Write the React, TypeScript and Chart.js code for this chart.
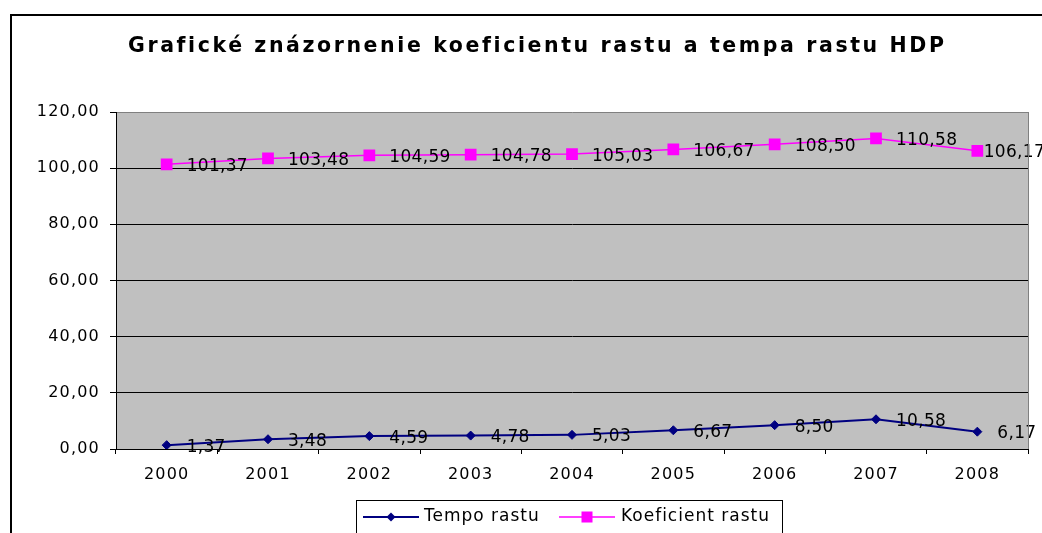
import React, { useEffect, useRef } from "react";
import { Chart, registerables } from "chart.js";

Chart.register(...registerables);

const TITLE = "Grafické znázornenie koeficientu rastu a tempa rastu HDP";
const years = ["2000", "2001", "2002", "2003", "2004", "2005", "2006", "2007", "2008"];
const tempoRastu = [1.37, 3.48, 4.59, 4.78, 5.03, 6.67, 8.5, 10.58, 6.17];
const koeficientRastu = [101.37, 103.48, 104.59, 104.78, 105.03, 106.67, 108.5, 110.58, 106.17];
const seriesNames = ["Tempo rastu", "Koeficient rastu"];
const seriesColors = ["#000080", "#FF00FF"];
const yMin = 0;
const yMax = 120;
const yStep = 20;

const fmt = (v: number) => v.toFixed(2).replace(".", ",");

const FONT = "'DejaVu Sans', sans-serif";

const backgroundPlugin = {
  id: "bgFrame",
  beforeDraw(chart: any) {
    const { ctx, chartArea } = chart;
    ctx.save();
    ctx.fillStyle = "#ffffff";
    ctx.fillRect(0, 0, chart.width, chart.height);
    ctx.strokeStyle = "#000000";
    ctx.lineWidth = 2;
    ctx.strokeRect(11, 15, chart.width + 40, chart.height + 40);
    ctx.fillStyle = "#C0C0C0";
    ctx.fillRect(chartArea.left, chartArea.top, chartArea.right - chartArea.left, chartArea.bottom - chartArea.top);
    ctx.restore();
    (ctx as any).letterSpacing = "1.2px";
  },
  afterDraw(chart: any) {
    const { ctx, chartArea } = chart;
    ctx.save();
    (ctx as any).letterSpacing = "0px";
    // plot area right border
    ctx.strokeStyle = "#808080";
    ctx.lineWidth = 1;
    ctx.beginPath();
    ctx.moveTo(Math.round(chartArea.right) + 0.5, chartArea.top);
    ctx.lineTo(Math.round(chartArea.right) + 0.5, chartArea.bottom);
    ctx.stroke();

    // title
    ctx.fillStyle = "#000";
    ctx.font = "bold 20.5px 'DejaVu Sans', sans-serif";
    ctx.textAlign = "left";
    ctx.textBaseline = "alphabetic";
    const w0 = ctx.measureText(TITLE).width;
    const sp = Math.max(0, (817 - w0) / TITLE.length);
    (ctx as any).letterSpacing = sp + "px";
    ctx.fillText(TITLE, 128, 52);
    (ctx as any).letterSpacing = "0px";

    // legend
    ctx.strokeStyle = "#000";
    ctx.lineWidth = 1;
    ctx.strokeRect(356.5, 500.5, 426, 60);
    const ly = 517;
    const items = [
      { x0: 363, x1: 419, tx: 424 },
      { x0: 559, x1: 615, tx: 621 },
    ];
    items.forEach((it, i) => {
      ctx.strokeStyle = seriesColors[i];
      ctx.lineWidth = i === 0 ? 2 : 1.5;
      ctx.beginPath();
      ctx.moveTo(it.x0, ly);
      ctx.lineTo(it.x1, ly);
      ctx.stroke();
      const cx = (it.x0 + it.x1) / 2;
      ctx.fillStyle = seriesColors[i];
      if (i === 0) {
        ctx.beginPath();
        ctx.moveTo(cx, ly - 4.5);
        ctx.lineTo(cx + 4.5, ly);
        ctx.lineTo(cx, ly + 4.5);
        ctx.lineTo(cx - 4.5, ly);
        ctx.closePath();
        ctx.fill();
      } else {
        ctx.fillRect(cx - 5.5, ly - 5.5, 11, 11);
      }
      ctx.fillStyle = "#000";
      ctx.font = "17px " + FONT;
      (ctx as any).letterSpacing = "1px";
      ctx.fillText(seriesNames[i], it.tx, 521);
      (ctx as any).letterSpacing = "0px";
    });
    ctx.restore();
    (ctx as any).letterSpacing = "0px";
  },
};

const dataLabelPlugin = {
  id: "dataLabels",
  afterDatasetsDraw(chart: any) {
    const { ctx } = chart;
    ctx.save();
    (ctx as any).letterSpacing = "0.3px";
    ctx.font = "17px " + FONT;
    ctx.fillStyle = "#000";
    ctx.textAlign = "left";
    ctx.textBaseline = "alphabetic";
    chart.data.datasets.forEach((ds: any, i: number) => {
      const meta = chart.getDatasetMeta(i);
      meta.data.forEach((pt: any, j: number) => {
        const txt = fmt(ds.data[j]);
        const w = ctx.measureText(txt).width;
        const x = Math.min(pt.x + 20, chart.width - w + 3);
        ctx.fillText(txt, x, pt.y + 6.5);
      });
    });
    ctx.restore();
  },
};

export default function App() {
  const ref = useRef<HTMLCanvasElement | null>(null);
  useEffect(() => {
    if (!ref.current) return;
    const chart = new Chart(ref.current, {
      type: "line",
      data: {
        labels: years,
        datasets: [
          {
            label: seriesNames[0],
            data: tempoRastu,
            borderColor: seriesColors[0],
            backgroundColor: seriesColors[0],
            borderWidth: 2,
            pointStyle: "rectRot",
            pointRadius: 4.5,
            pointBorderWidth: 1,
            tension: 0,
          },
          {
            label: seriesNames[1],
            data: koeficientRastu,
            borderColor: seriesColors[1],
            backgroundColor: seriesColors[1],
            borderWidth: 1.5,
            pointStyle: "rect",
            pointRadius: 8.3,
            pointBorderWidth: 0,
            tension: 0,
          },
        ],
      },
      options: {
        animation: false,
        responsive: false,
        devicePixelRatio: 1,
        layout: { padding: { top: 112, left: 0, right: 14, bottom: 44 } },
        plugins: {
          legend: { display: false },
          title: { display: false },
          tooltip: { enabled: false },
        },
        scales: {
          x: {
            type: "category",
            offset: true,
            grid: {
              display: true,
              drawOnChartArea: false,
              offset: true,
              tickLength: 5,
              color: "#000",
              lineWidth: 1,
            },
            border: { display: true, color: "#000", width: 1 },
            ticks: {
              color: "#000",
              font: { family: FONT, size: 16 },
              padding: 11,
              maxRotation: 0,
              autoSkip: false,
            },
            afterFit: (s: any) => {
              s.height = 40;
            },
          },
          y: {
            min: yMin,
            max: yMax,
            ticks: {
              stepSize: yStep,
              callback: (v: any) => fmt(Number(v)),
              color: "#000",
              font: { family: FONT, size: 16 },
              padding: 10,
            },
            grid: {
              color: (c: any) => (c.tick && c.tick.value === yMax ? "#808080" : "#000"),
              tickColor: "#000",
              tickLength: 6,
              lineWidth: 1,
            },
            border: { display: true, color: "#000", width: 1 },
            afterFit: (s: any) => {
              s.width = 116;
            },
          },
        },
      },
      plugins: [backgroundPlugin, dataLabelPlugin],
    } as any);
    return () => chart.destroy();
  }, []);
  return (
    <div style={{ position: "fixed", left: 0, top: 0, width: 1042, height: 533, background: "#fff" }}>
      <canvas ref={ref} width={1042} height={533} style={{ display: "block", width: 1042, height: 533 }} />
    </div>
  );
}
